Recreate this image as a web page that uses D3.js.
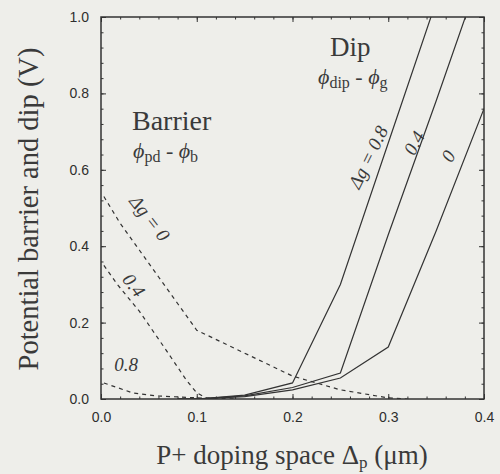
<!DOCTYPE html>
<html>
<head>
<meta charset="utf-8">
<script src="https://cdn.jsdelivr.net/npm/d3@7"></script>
<style>
  body { margin: 0; background: #eeeeea; }
  svg { display: block; }
  .tick text { font-family: "Liberation Sans", Arial, sans-serif; font-size: 14px; fill: #2e2e2e; }
  .tick line { stroke: #333; }
  .serif { font-family: "Liberation Serif", "Times New Roman", serif; fill: #3a3a3a; }
</style>
</head>
<body>
<svg id="chart" width="500" height="474"></svg>
<script>
// barrier curves (dashed), phi_pd - phi_b
const barrierX0 = [0.003, 0.02, 0.04, 0.06, 0.08, 0.1, 0.15, 0.2, 0.25, 0.3, 0.32];
const barrierY0 = [0.53, 0.46, 0.39, 0.32, 0.25, 0.18, 0.12, 0.06, 0.024, 0.003, 0];
const barrierX04 = [0.003, 0.017, 0.04, 0.068, 0.089, 0.1, 0.11, 0.14];
const barrierY04 = [0.35, 0.30, 0.23, 0.128, 0.05, 0.016, 0.003, 0];
const barrierX08 = [0.003, 0.033, 0.058, 0.1, 0.12];
const barrierY08 = [0.042, 0.016, 0.008, 0.003, 0];

// dip curves (solid), phi_dip - phi_g
const dipX = [0.08, 0.1, 0.15, 0.2, 0.25, 0.3, 0.35, 0.4];
const dipY08 = [0, 0, 0.01, 0.042, 0.30, 0.67, 1.04, 1.4];
const dipY04 = [0, 0, 0.008, 0.03, 0.068, 0.43, 0.78, 1.14];
const dipY0 = [0, 0, 0.006, 0.024, 0.055, 0.136, 0.44, 0.76];

const xTicks = [0, 0.1, 0.2, 0.3, 0.4];
const yTicks = [0, 0.2, 0.4, 0.6, 0.8, 1.0];

const svg = d3.select("#chart");
const mLeft = 101, mRight = 484, mTop = 17, mBottom = 399;

const x = d3.scaleLinear().domain([0, 0.4]).range([mLeft, mRight]);
const y = d3.scaleLinear().domain([0, 1]).range([mBottom, mTop]);

svg.append("defs").append("clipPath").attr("id", "plot")
  .append("rect").attr("x", mLeft).attr("y", mTop)
  .attr("width", mRight - mLeft).attr("height", mBottom - mTop);

const xMinor = d3.range(0, 0.401, 0.02);
const yMinor = d3.range(0, 1.001, 0.04);

// minor ticks on all four sides
svg.append("g").attr("transform", `translate(0,${mBottom})`)
  .call(d3.axisBottom(x).tickValues(xMinor).tickSize(-2.5).tickFormat(""));
svg.append("g").attr("transform", `translate(0,${mTop})`)
  .call(d3.axisTop(x).tickValues(xMinor).tickSize(-2.5).tickFormat(""));
svg.append("g").attr("transform", `translate(${mLeft},0)`)
  .call(d3.axisLeft(y).tickValues(yMinor).tickSize(-2.5).tickFormat(""));
svg.append("g").attr("transform", `translate(${mRight},0)`)
  .call(d3.axisRight(y).tickValues(yMinor).tickSize(-2.5).tickFormat(""));

// major ticks
svg.append("g").attr("transform", `translate(0,${mBottom})`)
  .call(d3.axisBottom(x).tickValues(xTicks).tickSize(-5).tickPadding(13).tickFormat(d3.format(".1f")));
svg.append("g").attr("transform", `translate(0,${mTop})`)
  .call(d3.axisTop(x).tickValues(xTicks).tickSize(-5).tickFormat(""));
svg.append("g").attr("transform", `translate(${mLeft},0)`)
  .call(d3.axisLeft(y).tickValues(yTicks).tickSize(-5).tickPadding(12).tickFormat(d3.format(".1f")));
svg.append("g").attr("transform", `translate(${mRight},0)`)
  .call(d3.axisRight(y).tickValues(yTicks).tickSize(-5).tickFormat(""));

svg.selectAll(".domain").remove();

// frame
svg.append("rect")
  .attr("x", mLeft).attr("y", mTop)
  .attr("width", mRight - mLeft).attr("height", mBottom - mTop)
  .attr("fill", "none").attr("stroke", "#333").attr("stroke-width", 1.5);

const line = d3.line().x(d => x(d[0])).y(d => y(d[1]));
const plot = svg.append("g").attr("clip-path", "url(#plot)");

[[barrierX0, barrierY0], [barrierX04, barrierY04], [barrierX08, barrierY08]].forEach(([xs, ys]) => {
  plot.append("path")
    .attr("d", line(xs.map((v, i) => [v, ys[i]])))
    .attr("fill", "none").attr("stroke", "#333").attr("stroke-width", 1.2)
    .attr("stroke-dasharray", "4,4");
});

[dipY08, dipY04, dipY0].forEach(ys => {
  plot.append("path")
    .attr("d", line(dipX.map((v, i) => [v, ys[i]])))
    .attr("fill", "none").attr("stroke", "#333").attr("stroke-width", 1.2);
});

// axis titles
const xt = svg.append("text").attr("class", "serif")
  .attr("x", 292).attr("y", 464)
  .attr("text-anchor", "middle").attr("font-size", 27);
xt.append("tspan").text("P+ doping space Δ");
xt.append("tspan").attr("font-size", 17).attr("dy", 4).text("p");
xt.append("tspan").attr("dy", -4).text(" (μm)");

svg.append("text").attr("class", "serif")
  .attr("transform", "translate(38,209) rotate(-90)")
  .attr("text-anchor", "middle").attr("font-size", 28.5)
  .text("Potential barrier and dip (V)");

// region labels
svg.append("text").attr("class", "serif").attr("x", 330).attr("y", 56)
  .attr("font-size", 27).text("Dip");
const dl = svg.append("text").attr("class", "serif").attr("x", 318).attr("y", 84).attr("font-size", 22);
dl.append("tspan").attr("font-style", "italic").text("ϕ");
dl.append("tspan").attr("font-size", 16).attr("dy", 4).text("dip");
dl.append("tspan").attr("dy", -4).text(" - ");
dl.append("tspan").attr("font-style", "italic").text("ϕ");
dl.append("tspan").attr("font-size", 16).attr("dy", 4).text("g");

svg.append("text").attr("class", "serif").attr("x", 132).attr("y", 130)
  .attr("font-size", 28).text("Barrier");
const bl = svg.append("text").attr("class", "serif").attr("x", 133).attr("y", 158).attr("font-size", 22);
bl.append("tspan").attr("font-style", "italic").text("ϕ");
bl.append("tspan").attr("font-size", 16).attr("dy", 4).text("pd");
bl.append("tspan").attr("dy", -4).text(" - ");
bl.append("tspan").attr("font-style", "italic").text("ϕ");
bl.append("tspan").attr("font-size", 16).attr("dy", 4).text("b");

// curve labels
const curveLabels = [
  { t: "Δg = 0.8", cx: 368, cy: 157, a: -64 },
  { t: "0.4", cx: 414, cy: 143, a: -62 },
  { t: "0", cx: 448, cy: 156, a: -60 },
  { t: "Δg = 0", cx: 150, cy: 218, a: 52 },
  { t: "0.4", cx: 134, cy: 285, a: 52 },
  { t: "0.8", cx: 126, cy: 364, a: 0 }
];
curveLabels.forEach(d => {
  svg.append("text").attr("class", "serif")
    .attr("transform", `translate(${d.cx},${d.cy}) rotate(${d.a})`)
    .attr("text-anchor", "middle").attr("dy", "0.35em")
    .attr("font-size", 19).attr("font-style", "italic")
    .text(d.t);
});
</script>
</body>
</html>
